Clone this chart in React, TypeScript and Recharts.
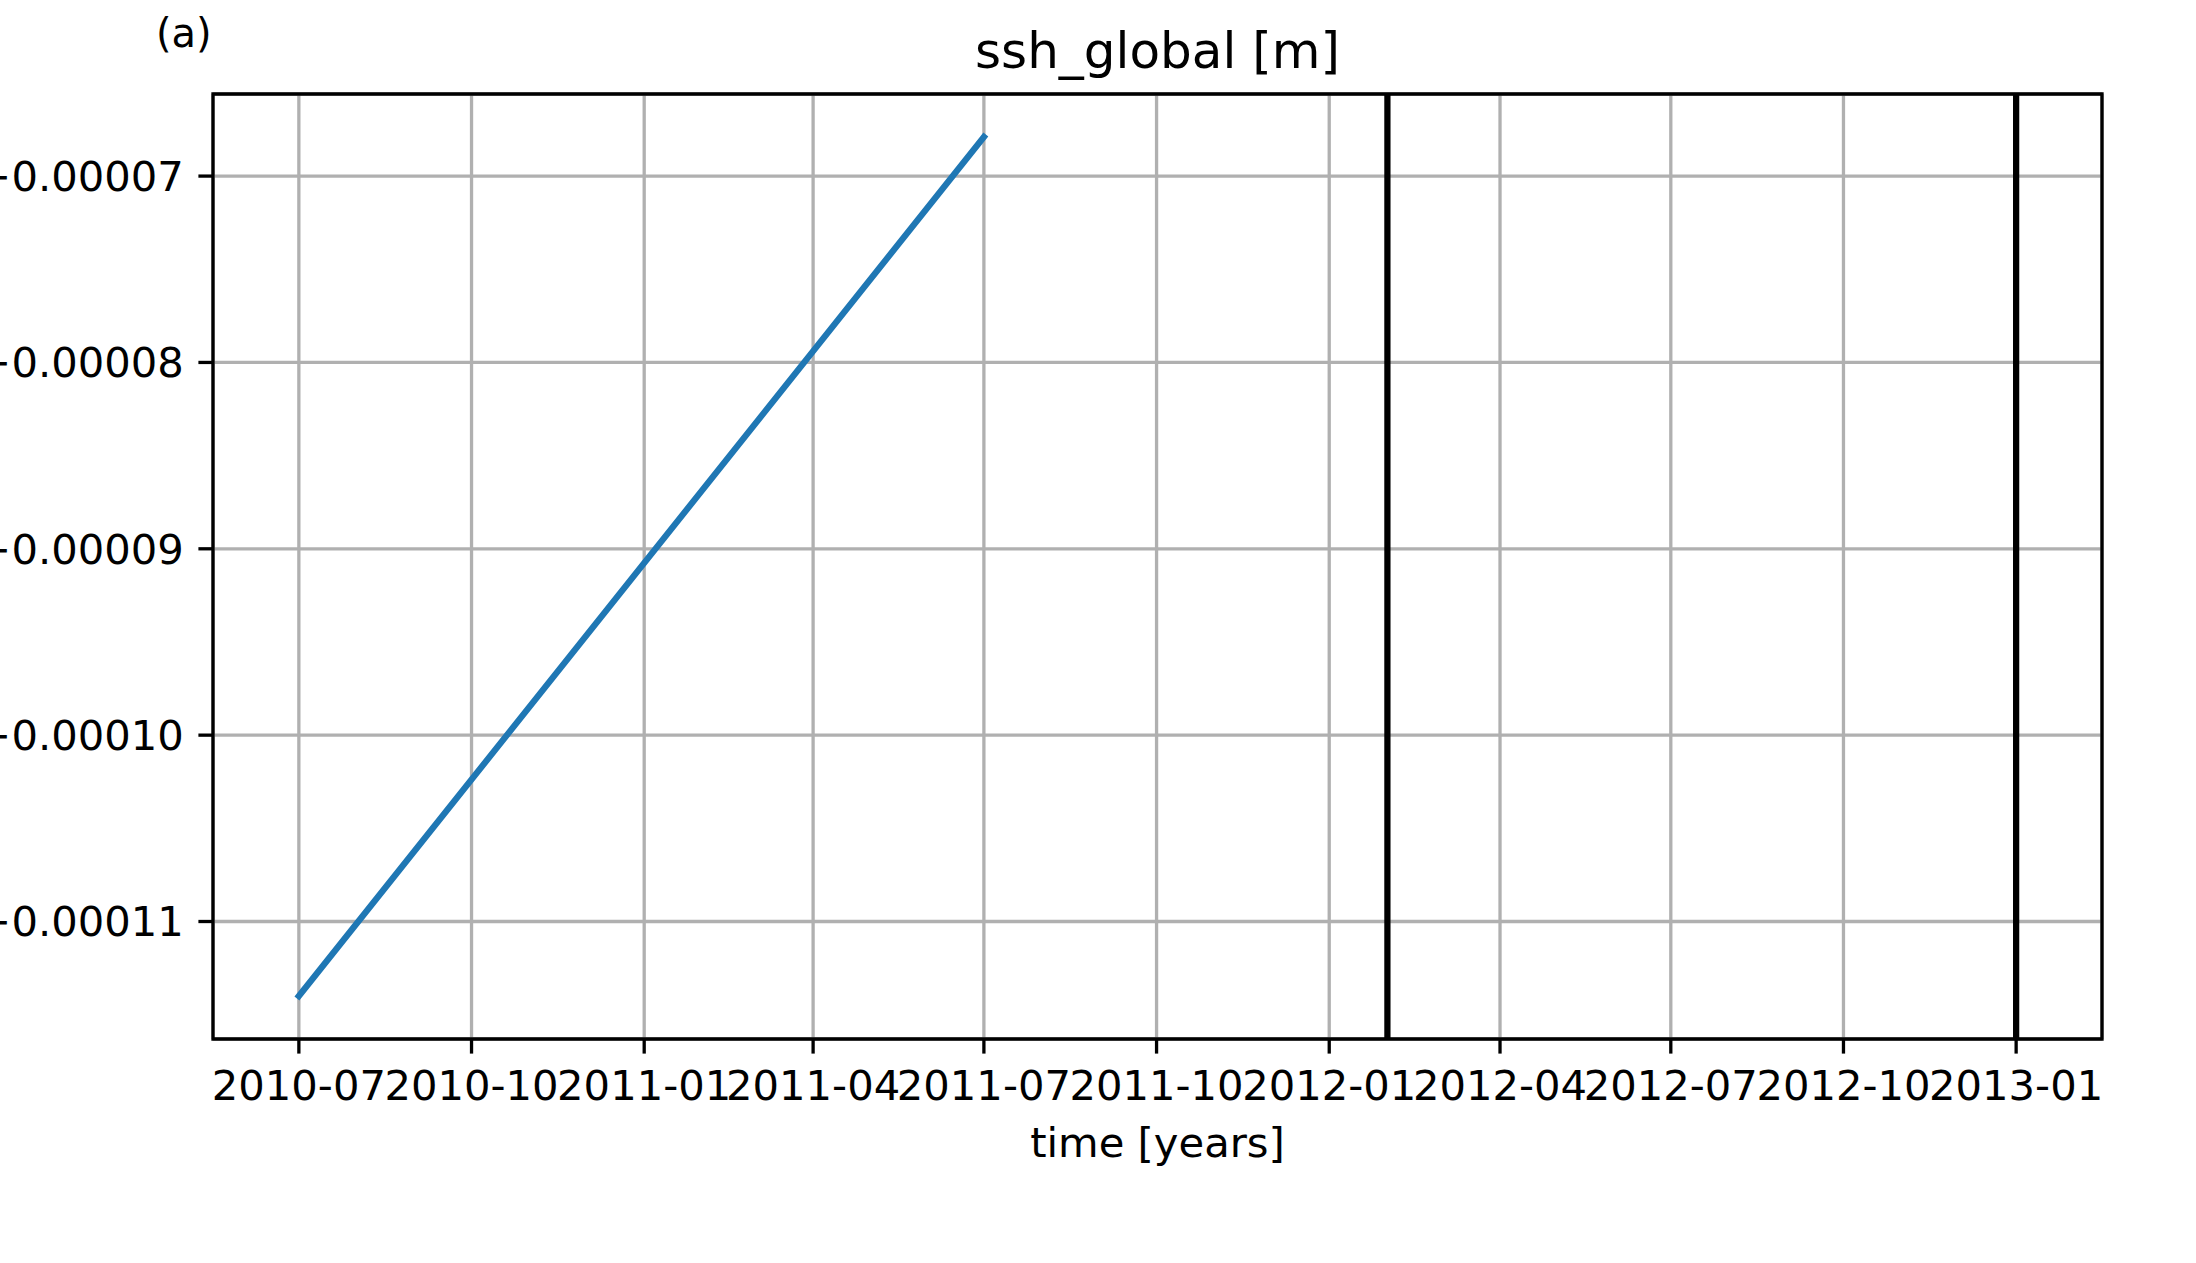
import {
  CartesianGrid,
  Line,
  LineChart,
  ReferenceArea,
  ReferenceLine,
  XAxis,
  YAxis,
} from "recharts";

const W = 2196;
const H = 1263;
const FONT = "DejaVu Sans";

const timeDates = ["2010-07-01", "2011-07-01"];
const sshGlobal = [-0.000114, -0.0000679];
const markerDates = ["2012-02-01", "2013-01-01"];
const xTickLabels = [
  "2010-07", "2010-10", "2011-01", "2011-04", "2011-07", "2011-10",
  "2012-01", "2012-04", "2012-07", "2012-10", "2013-01",
];
const yTicks = [-0.00011, -0.0001, -0.00009, -0.00008, -0.00007];

const toMs = (d: string) => Date.parse(d.length === 7 ? d + "-01T00:00:00Z" : d + "T00:00:00Z");

const data = timeDates.map((d, i) => ({ t: toMs(d), ssh: sshGlobal[i] }));
const xTicks = xTickLabels.map(toMs);

// matplotlib-style 5% margins
const xLo = toMs(timeDates[0]);
const xHi = toMs(markerDates[markerDates.length - 1]);
const xPad = (xHi - xLo) * 0.05;
const xDomain: [number, number] = [xLo - xPad, xHi + xPad];
const yLo = Math.min(...sshGlobal);
const yHi = Math.max(...sshGlobal);
const yPad = (yHi - yLo) * 0.05;
const yDomain: [number, number] = [yLo - yPad, yHi + yPad];

const fmtMonth = (t: number) => {
  const d = new Date(t);
  return `${d.getUTCFullYear()}-${String(d.getUTCMonth() + 1).padStart(2, "0")}`;
};
const fmtY = (v: number) => v.toFixed(5).replace("-", "\u2212");

const tickStyle = { fill: "#000", fontSize: 41.7, fontFamily: FONT };
const tickLine = { stroke: "#000", strokeWidth: 3.3 };

export default function App() {
  return (
    <div style={{ position: "absolute", left: 0, top: 0, width: W, height: H, background: "#fff" }}>
      <LineChart
        width={W}
        height={H}
        data={data}
        margin={{ top: 94, right: 94, left: 0, bottom: 0 }}
      >
        <CartesianGrid stroke="#b0b0b0" strokeWidth={3.3} />
        <XAxis
          dataKey="t"
          type="number"
          scale="linear"
          domain={xDomain}
          allowDataOverflow
          ticks={xTicks}
          interval={0}
          tickFormatter={fmtMonth}
          height={224}
          axisLine={false}
          tickLine={tickLine}
          tickSize={14.6}
          tickMargin={17}
          tick={tickStyle}
        />
        <YAxis
          type="number"
          scale="linear"
          domain={yDomain}
          allowDataOverflow
          ticks={yTicks}
          interval={0}
          tickFormatter={fmtY}
          width={213}
          axisLine={false}
          tickLine={tickLine}
          tickSize={14.6}
          tickMargin={14.6}
          tick={tickStyle}
        />
        <Line
          type="linear"
          dataKey="ssh"
          stroke="#1f77b4"
          strokeWidth={6.25}
          strokeLinecap="square"
          dot={false}
          activeDot={false}
          isAnimationActive={false}
        />
        {markerDates.map((d) => (
          <ReferenceLine key={d} x={toMs(d)} stroke="#000" strokeWidth={6.25} />
        ))}
        <ReferenceArea
          x1={xDomain[0]}
          x2={xDomain[1]}
          y1={yDomain[0]}
          y2={yDomain[1]}
          fill="none"
          fillOpacity={0}
          stroke="#000"
          strokeWidth={3.3}
          ifOverflow="visible"
        />
      </LineChart>
      <svg
        width={W}
        height={H}
        style={{ position: "absolute", left: 0, top: 0, pointerEvents: "none" }}
      >
        <text x={156} y={47} fontSize={40} fontFamily={FONT} fill="#000">
          (a)
        </text>
        <text x={1157.5} y={68} fontSize={50} fontFamily={FONT} fill="#000" textAnchor="middle">
          ssh_global [m]
        </text>
        <text x={1157.5} y={1157} fontSize={41.7} fontFamily={FONT} fill="#000" textAnchor="middle">
          time [years]
        </text>
      </svg>
    </div>
  );
}
